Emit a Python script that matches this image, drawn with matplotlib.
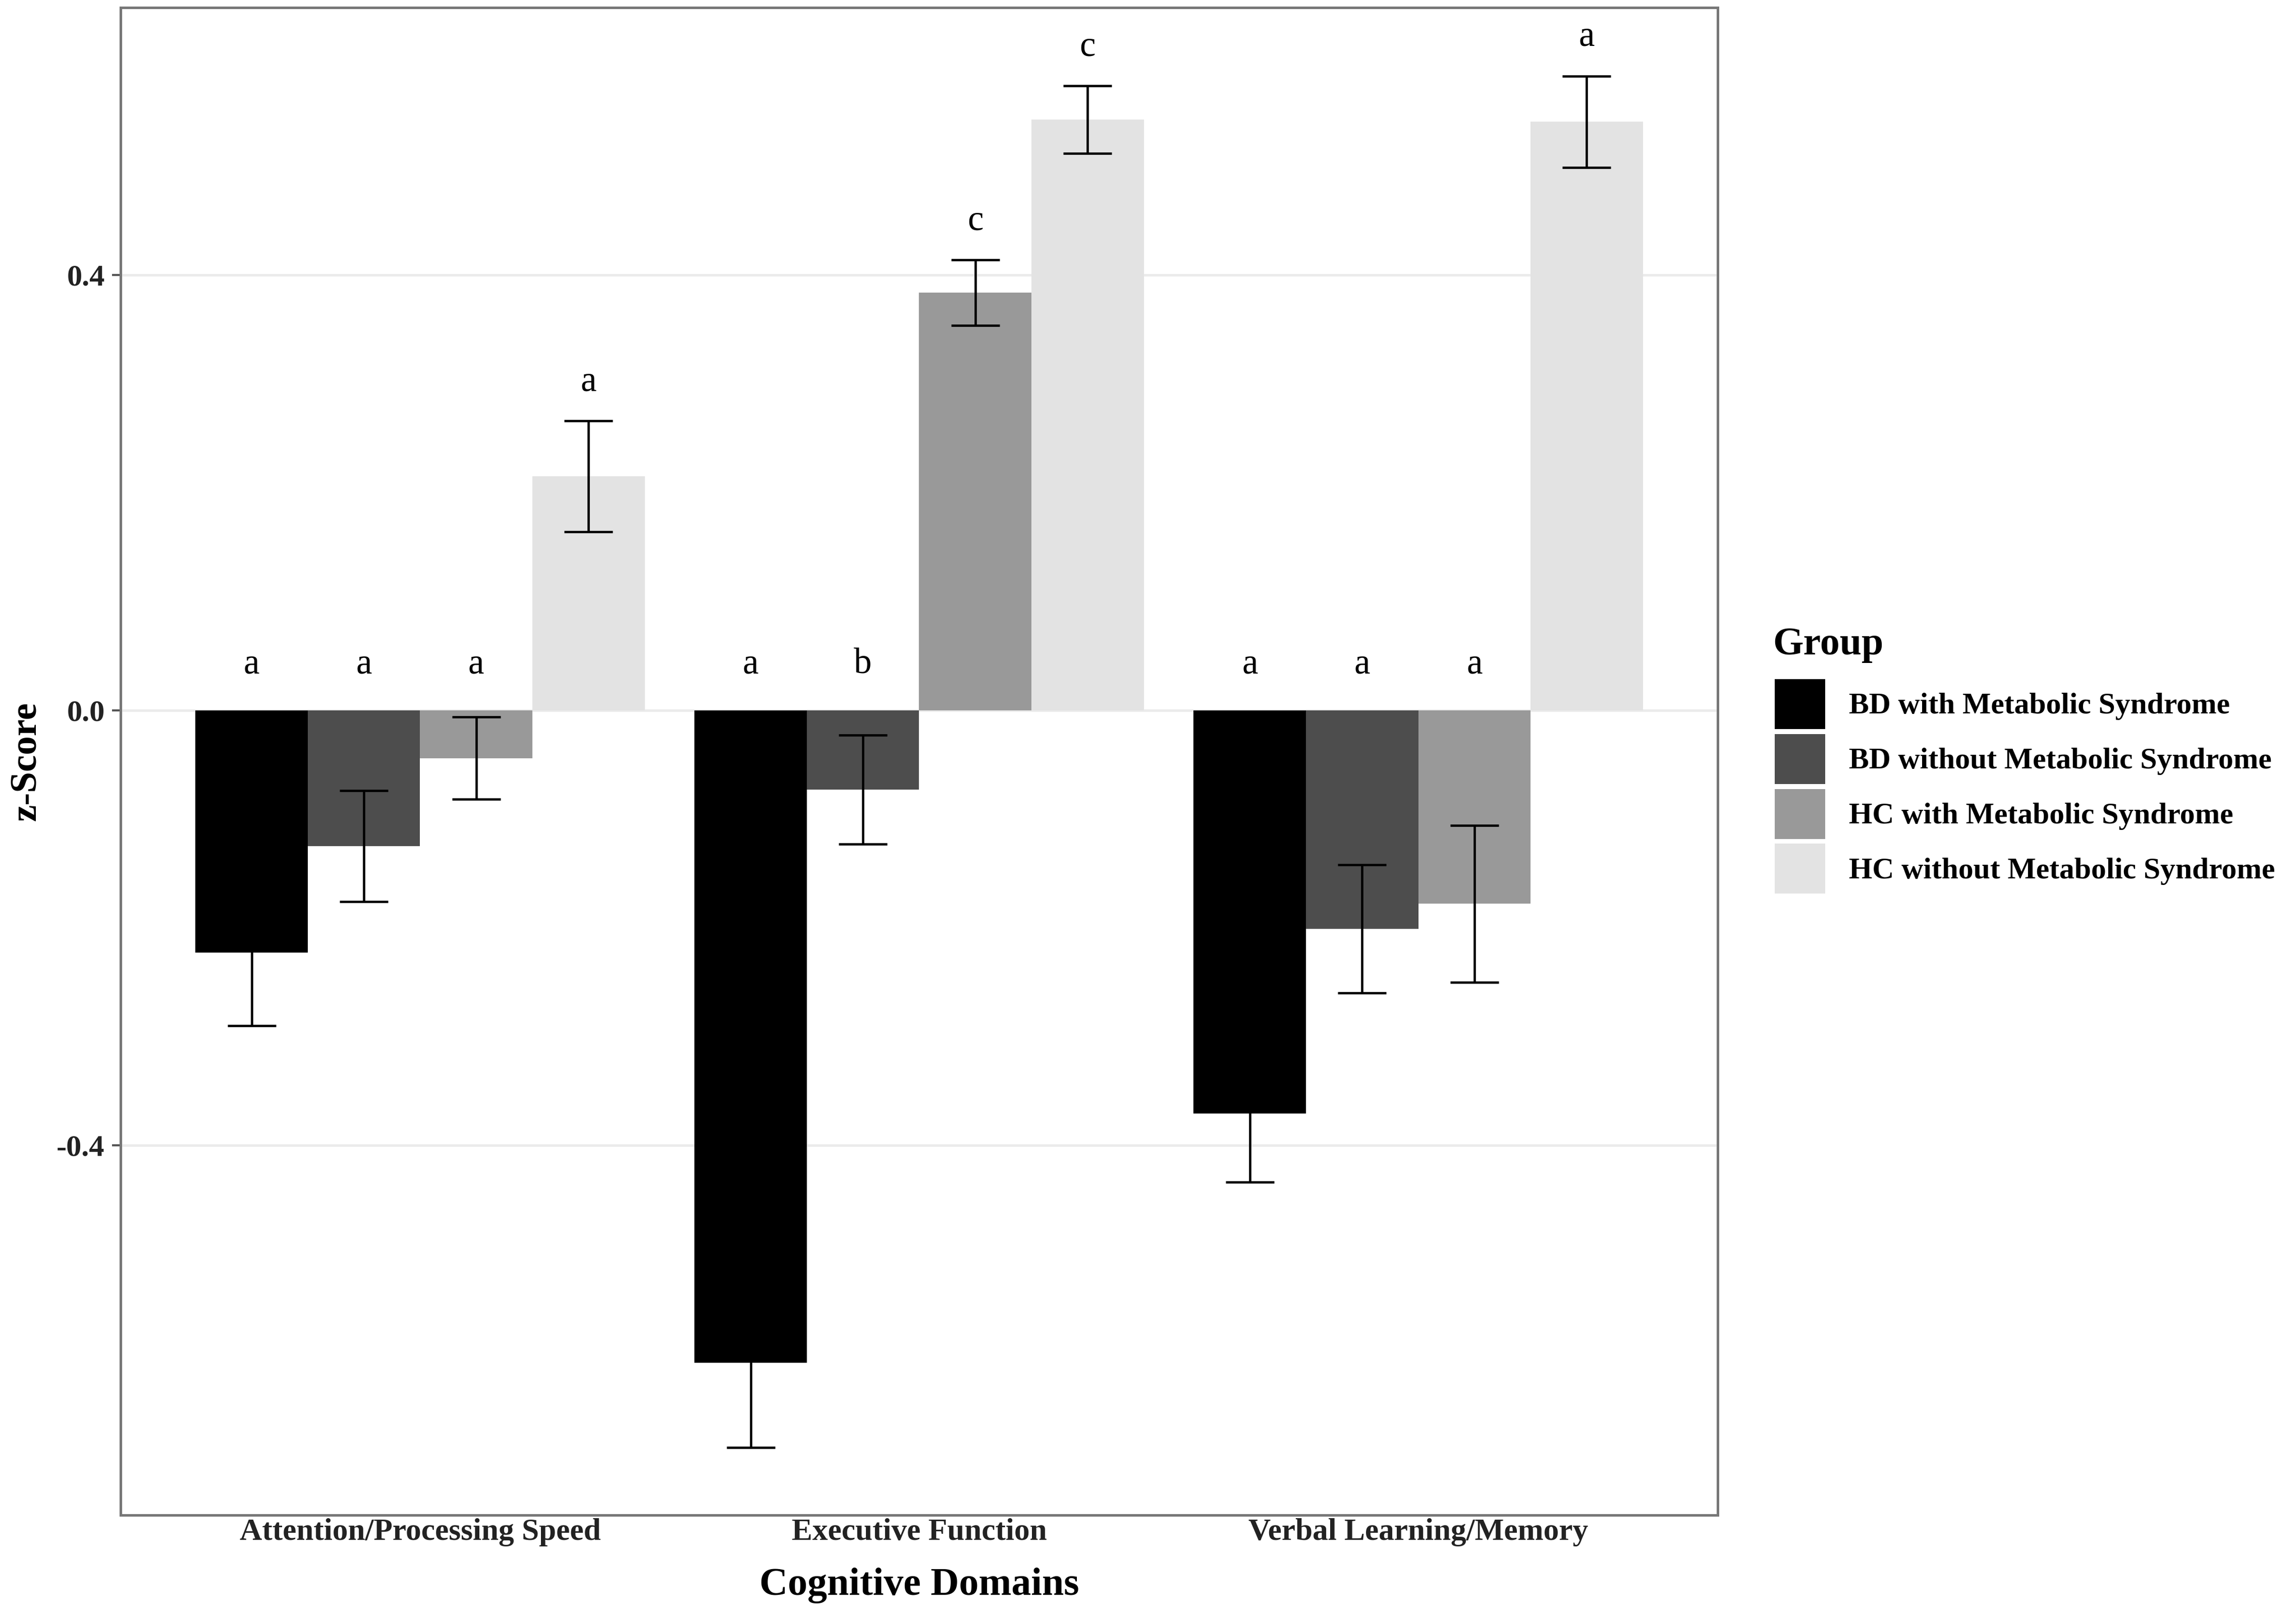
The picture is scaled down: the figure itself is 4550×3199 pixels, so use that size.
import numpy as np
import matplotlib
matplotlib.use("Agg")
import matplotlib.pyplot as plt
from matplotlib.patches import Patch

plt.rcParams['font.family'] = ['Liberation Serif', 'DejaVu Serif']

# Data (mean z-score and standard error per group/domain)
domains = ["Attention/Processing Speed", "Executive Function", "Verbal Learning/Memory"]
groups = ["BD with Metabolic Syndrome", "BD without Metabolic Syndrome",
          "HC with Metabolic Syndrome", "HC without Metabolic Syndrome"]

bd_met_mean = [-0.223, -0.600, -0.371]
bd_met_se = [0.067, 0.078, 0.063]
bd_nomet_mean = [-0.125, -0.073, -0.201]
bd_nomet_se = [0.051, 0.050, 0.059]
hc_met_mean = [-0.044, 0.384, -0.178]
hc_met_se = [0.038, 0.030, 0.072]
hc_nomet_mean = [0.215, 0.543, 0.541]
hc_nomet_se = [0.051, 0.031, 0.042]

bd_met_letters = ["a", "a", "a"]
bd_nomet_letters = ["a", "b", "a"]
hc_met_letters = ["a", "c", "a"]
hc_nomet_letters = ["a", "c", "a"]

means = [bd_met_mean, bd_nomet_mean, hc_met_mean, hc_nomet_mean]
ses = [bd_met_se, bd_nomet_se, hc_met_se, hc_nomet_se]
letters = [bd_met_letters, bd_nomet_letters, hc_met_letters, hc_nomet_letters]
fills = ["#000000", "#4d4d4d", "#999999", "#e3e3e3"]

W, H = 4550, 3199
fig = plt.figure(figsize=(W / 300, H / 300), dpi=300)
ax = fig.add_axes([239 / W, 1 - 3003 / H, (3404 - 239) / W, (3003 - 15) / H])

x = np.arange(1, len(domains) + 1)
bw = 0.9 / len(groups)

for i, (m, s, lab, col) in enumerate(zip(means, ses, letters, fills)):
    m = np.array(m)
    s = np.array(s)
    xpos = x - 0.45 + bw * (i + 0.5)
    ax.bar(xpos, m, width=bw, color=col, edgecolor='none', zorder=2)
    ax.errorbar(xpos, m, yerr=s, fmt='none', ecolor='black', elinewidth=1.1,
                capsize=11.5, capthick=1.1, zorder=3)
    # significance letters sit above the error bar (or above zero for negative bars)
    upper = m + s
    ly = np.where(upper > 0, upper + 0.036, 0.042)
    for xx, yy, t in zip(xpos, ly, lab):
        ax.text(xx, yy, t, ha='center', va='center', fontsize=17, zorder=4)

ax.set_xlim(0.4, 3.6)
ax.set_ylim(-0.740, 0.646)
ax.set_yticks([-0.4, 0.0, 0.4])
ax.set_yticklabels(["-0.4", "0.0", "0.4"])
ax.set_xticks(x)
ax.set_xticklabels(domains)
for t in ax.get_yticklabels():
    t.set_fontweight('bold')
    t.set_fontsize(14.5)
for t in ax.get_xticklabels():
    t.set_fontweight('bold')
    t.set_fontsize(14.7)
ax.tick_params(axis='y', length=4, width=1, color='#555555', pad=3.5, labelcolor='#222222')
ax.tick_params(axis='x', length=0, pad=1.5, labelcolor='#222222')

ax.grid(axis='y', color='#ebebeb', linewidth=1.2, zorder=0)
ax.set_axisbelow(True)
for sp in ax.spines.values():
    sp.set_color('#777777')
    sp.set_linewidth(1.2)

ax.set_xlabel("Cognitive Domains", fontsize=18.7, fontweight='bold', labelpad=10)
ax.set_ylabel("z-Score", fontsize=18, fontweight='bold', labelpad=6)

# legend: title placed separately so the gap to the keys matches
fig.text(3513 / W, 1 - 1297 / H, "Group", ha='left', va='baseline',
         fontsize=18.7, fontweight='bold')
handles = [Patch(facecolor=c, edgecolor='none') for c in fills]
leg = fig.legend(handles, groups, loc='upper left', bbox_to_anchor=(3517 / W, 1 - 1346 / H),
                 bbox_transform=fig.transFigure, frameon=False, borderpad=0,
                 borderaxespad=0, handlelength=1.68, handleheight=2.185,
                 labelspacing=0.16, handletextpad=0.79,
                 prop={'size': 14.3, 'weight': 'bold'})

fig.savefig("out.png", dpi=300, facecolor='white')
